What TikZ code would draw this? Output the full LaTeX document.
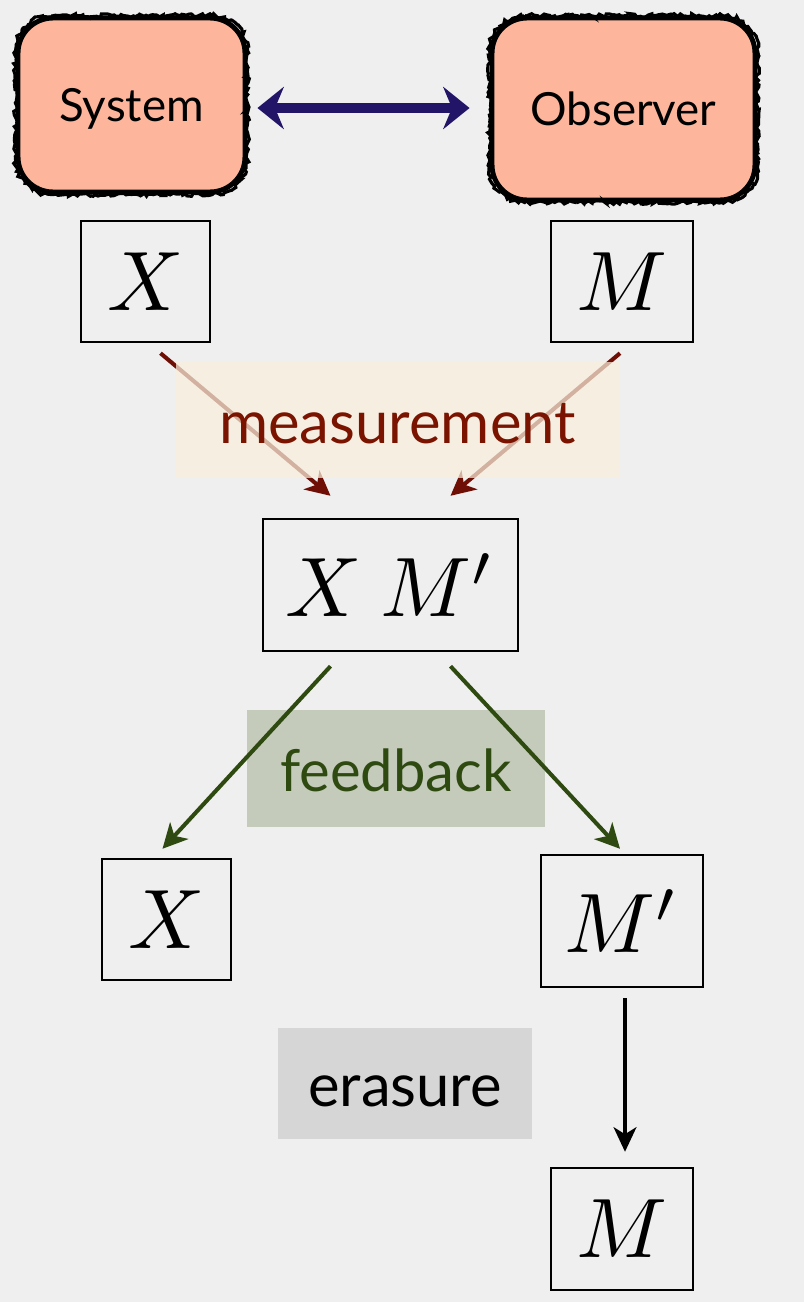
\documentclass[tikz,border=0pt]{standalone}
\usepackage{graphicx}
\usepackage{fontspec}
\newfontfamily\gill{Lato}
\usetikzlibrary{arrows.meta,decorations.pathmorphing,calc}
\definecolor{bgpaper}{HTML}{EFEFEF}
\definecolor{salmon}{HTML}{FDB59B}
\definecolor{navy}{HTML}{221466}
\definecolor{measred}{HTML}{6E0E05}
\definecolor{meastext}{HTML}{7A1300}
\definecolor{measfill}{HTML}{FAF0DC}
\definecolor{fbgreen}{HTML}{2E4A10}
\definecolor{fbfill}{HTML}{C4CBBA}
\definecolor{erfill}{HTML}{D6D6D6}
\newcommand{\varsym}[1]{\scalebox{4.8}{$#1$}}
\tikzset{
  agent/.style={fill=salmon, draw=black, line width=2.8pt, rounded corners=0.7cm,
     font=\gill\fontsize{26}{30}\selectfont, inner sep=0pt, text depth=0pt},
  rough/.style={draw=black, line width=1.8pt, decorate,
     decoration={random steps, segment length=1.5pt, amplitude=1.1pt}},
  var/.style={draw=black, line width=1.4pt, inner sep=0pt},
  lbl/.style={inner sep=0pt, font=\gill\fontsize{34}{38}\selectfont},
  measarrow/.style={draw=measred, line width=2.3pt, -{Stealth[length=14pt,width=14pt,inset=4pt]}},
  fbarrow/.style={draw=fbgreen, line width=2.3pt, -{Stealth[length=14pt,width=14pt,inset=4pt]}},
  erarrow/.style={draw=black, line width=2pt, -{Stealth[length=14pt,width=13pt,inset=4pt]}},
  dblarrow/.style={draw=navy, line width=5.7pt, {Stealth[length=15pt,width=24pt,inset=5pt]}-{Stealth[length=15pt,width=24pt,inset=5pt]}}
}
\begin{document}
\begin{tikzpicture}[x=0.02cm,y=-0.02cm]
\fill[bgpaper] (0,0) rectangle (804,1302);
\useasboundingbox (0,0) rectangle (804,1302);

% agents
\node[agent, minimum width=4.54cm, minimum height=3.48cm] (sys) at (131.5,105) {System};
\node[agent, minimum width=5.26cm, minimum height=3.64cm] (obs) at (623.5,109) {Observer};
\foreach \n in {sys,obs}{
  \draw[rough] ($(\n.north west)+(35,0)$) -- ($(\n.north east)+(-35,0)$)
     arc[start angle=90,end angle=0,radius=0.7cm] -- ($(\n.south east)+(0,-35)$)
     arc[start angle=0,end angle=-90,radius=0.7cm] -- ($(\n.south west)+(35,0)$)
     arc[start angle=-90,end angle=-180,radius=0.7cm] -- ($(\n.north west)+(0,35)$)
     arc[start angle=180,end angle=90,radius=0.7cm] -- cycle;
}
\draw[dblarrow] ($(sys.east)+(10,3)$) -- ($(obs.west)+(-20,-1)$);

% variable boxes
\node[var, minimum width=2.58cm, minimum height=2.42cm] (x1) at (145.5,281.5) {\varsym{X}};
\node[var, minimum width=2.84cm, minimum height=2.42cm] (m1) at (622,281.5) {\varsym{M}};
\node[var, minimum width=5.1cm, minimum height=2.64cm] (xm) at (390.5,585) {\varsym{X\:M'}};
\node[var, minimum width=2.58cm, minimum height=2.42cm] (x2) at (166.5,919.5) {\varsym{X}};
\node[var, minimum width=3.24cm, minimum height=2.64cm] (m2) at (622,921) {\varsym{M'}};
\node[var, minimum width=2.84cm, minimum height=2.44cm] (m3) at (622,1229) {\varsym{M}};

% measurement
\draw[measarrow] ($(x1.south)+(15,10)$) -- ($(xm.north)+(-60,-22)$);
\draw[measarrow] ($(m1.south)+(-2,10)$) -- ($(xm.north)+(60,-22)$);
\node[fill=measfill, fill opacity=0.72, minimum width=8.86cm, minimum height=2.32cm] (measbg) at (397.5,420) {};
\node[lbl, text=meastext] (meas) at (397.5,424) {measurement};

% feedback
\node[fill=fbfill, minimum width=5.96cm, minimum height=2.34cm] (fbbg) at (396,768.5) {};
\node[lbl, text=fbgreen, font=\gill\fontsize{33}{37}\selectfont] (fb) at (396,770) {feedback};
\draw[fbarrow] ($(xm.south)+(-60,14)$) -- ($(x2.north)+(-4,-9)$);
\draw[fbarrow] ($(xm.south)+(60,14)$) -- ($(m2.north)+(-2,-5)$);

% erasure
\node[fill=erfill, minimum width=5.08cm, minimum height=2.22cm] (erbg) at (405,1083.5) {};
\node[lbl, text=black] (er) at (405,1091) {erasure};
\draw[erarrow] ($(m2.south)+(3,10)$) -- ($(m3.north)+(3,-15)$);
\end{tikzpicture}
\end{document}
